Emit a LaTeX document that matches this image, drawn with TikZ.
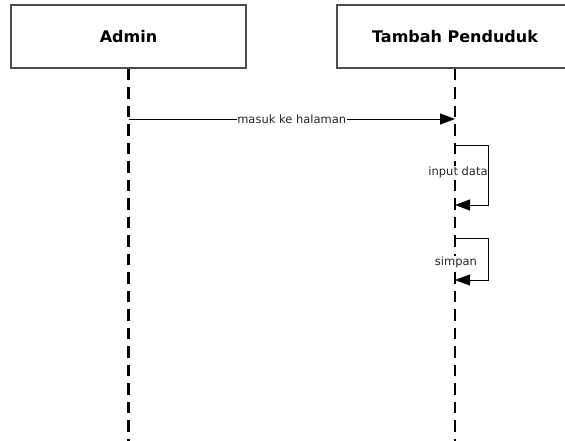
\documentclass[tikz,border=0pt]{standalone}
\usepackage{fontspec}
\setmainfont{DejaVu Sans}
\usetikzlibrary{arrows.meta}
\begin{document}
\begin{tikzpicture}[x=1pt,y=-1pt,
  actor/.style={draw=black!70, line width=1.3pt, fill=white,
    minimum width=235pt, minimum height=63pt, inner sep=0pt,
    font=\bfseries\fontsize{16}{18}\selectfont},
  lifeline/.style={line width=2.1pt, dash pattern=on 11.5pt off 7pt},
  msg/.style={line width=0.9pt, -{Triangle[length=15pt,width=11pt]}},
  lbl/.style={fill=white, inner sep=0.6pt, text=black!85,
    font=\fontsize{11.5}{13}\selectfont}
]
\useasboundingbox (0,0) rectangle (565,441);
\clip (0,0) rectangle (565,441);

% participants
\node[actor] (admin) at (128.5,36.5) {Admin};
\node[actor, minimum width=236pt] (tambah) at (455,36.5) {Tambah Penduduk};

% lifeline ends
\coordinate (adminEnd) at (128.5,441);
\coordinate (tambahEnd) at (455,441);

\draw[lifeline] (admin.south) -- (adminEnd);
\draw[lifeline] (tambah.south) -- (tambahEnd);

% message: masuk ke halaman
\coordinate (m1a) at (128.5,119);
\coordinate (m1b) at (455,119);
\draw[msg] (m1a) -- (m1b);
\node[lbl] (m1lbl) at (291.75,119) {masuk ke halaman};

% self message: input data
\coordinate (s1a) at (455,145);
\coordinate (s1b) at (488,145);
\coordinate (s1c) at (488,205);
\coordinate (s1d) at (455,205);
\draw[msg] (s1a) -- (s1b) -- (s1c) -- (s1d);
\node[lbl] (s1lbl) at (458,172) {input data};

% self message: simpan
\coordinate (s2a) at (455,238);
\coordinate (s2b) at (488,238);
\coordinate (s2c) at (488,280);
\coordinate (s2d) at (455,280);
\draw[msg] (s2a) -- (s2b) -- (s2c) -- (s2d);
\node[lbl] (s2lbl) at (456,262) {simpan};
\end{tikzpicture}
\end{document}
